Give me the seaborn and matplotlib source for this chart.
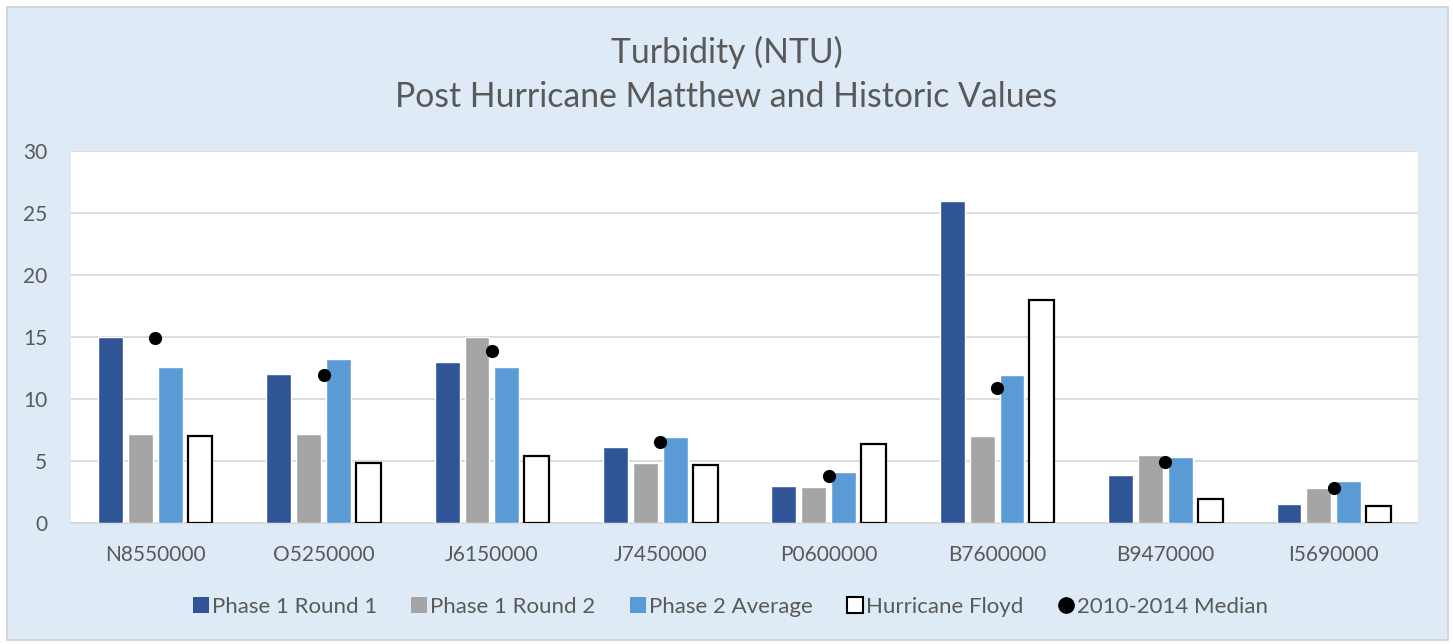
import pandas as pd  # data tables
import matplotlib.pyplot as plt  # plotting
from matplotlib.patches import Rectangle
from matplotlib.lines import Line2D
import seaborn as sns  # bar + strip plots

# ---- Data ---- #
stations = ['N8550000', 'O5250000', 'J6150000', 'J7450000',
            'P0600000', 'B7600000', 'B9470000', 'I5690000']
phase1_round1 = [15.0, 12.0, 13.0, 6.1, 3.0, 26.0, 3.9, 1.5]
phase1_round2 = [7.2, 7.2, 15.0, 4.8, 2.9, 7.0, 5.5, 2.8]
phase2_average = [12.6, 13.2, 12.6, 6.9, 4.1, 11.9, 5.3, 3.4]
hurricane_floyd = [7.0, 4.8, 5.4, 4.7, 6.4, 18.0, 1.9, 1.4]
median_2010_2014 = [14.9, 11.9, 13.9, 6.5, 3.8, 10.9, 4.9, 2.8]

series_names = ['Phase 1 Round 1', 'Phase 1 Round 2', 'Phase 2 Average', 'Hurricane Floyd']
series_colors = ['#2F5597', '#A5A5A5', '#5B9BD5', '#FFFFFF']
y_ticks = [0, 5, 10, 15, 20, 25, 30]

# Long-form table for seaborn
bars = pd.DataFrame({
    'station': stations * 4,
    'series': [s for s in series_names for _ in stations],
    'value': phase1_round1 + phase1_round2 + phase2_average + hurricane_floyd,
})
medians = pd.DataFrame({'station': stations, 'value': median_2010_2014})

sns.set_style('white')
plt.rcParams['font.family'] = ['Lato', 'DejaVu Sans']
text_color = '#595959'

fig = plt.figure(figsize=(14.53, 6.44), dpi=100, facecolor='white')
# chart area background with thin border (behind the axes)
fig.patches.append(Rectangle((7 / 1453, 1 - 640 / 644), 1441 / 1453, 633 / 644,
                             transform=fig.transFigure, facecolor='#DEEAF6',
                             edgecolor='#D0D0D0', linewidth=1.2, zorder=-1))

ax = fig.add_axes([71 / 1453, 1 - 523 / 644, 1347 / 1453, 372 / 644])
ax.set_zorder(1)
ax.set_facecolor('white')

sns.barplot(data=bars, x='station', y='value', hue='series', order=stations,
            hue_order=series_names, palette=series_colors, width=0.71, gap=0.17,
            saturation=1, errorbar=None, legend=False, ax=ax, zorder=3)
# Hurricane Floyd bars: white with black outline
for patch in ax.containers[3]:
    patch.set_edgecolor('black')
    patch.set_linewidth(1.6)

sns.stripplot(data=medians, x='station', y='value', order=stations, jitter=False,
              color='black', size=9.5, ax=ax, zorder=4)

ax.set_ylim(0, 30)
ax.set_yticks(y_ticks)
ax.set_xlim(-0.5, len(stations) - 0.5)
ax.grid(axis='y', color='#D9D9D9', linewidth=1.3, zorder=0)
ax.set_axisbelow(True)
for side in ['top', 'left']:
    ax.spines[side].set_visible(False)
ax.spines['right'].set_color('#E8E8E8')
ax.spines['bottom'].set_color('#D9D9D9')
ax.spines['bottom'].set_linewidth(1.5)
ax.tick_params(axis='both', length=0, labelsize=15, labelcolor=text_color)
ax.tick_params(axis='x', pad=16)
ax.tick_params(axis='y', pad=17)
ax.set_xlabel('')
ax.set_ylabel('')

fig.text(0.5, 1 - 52 / 644, 'Turbidity (NTU)', ha='center', va='center',
         fontsize=24.3, color=text_color)
fig.text(0.5, 1 - 97 / 644, 'Post Hurricane Matthew and Historic Values', ha='center',
         va='center', fontsize=24.3, color=text_color)

handles = [Line2D([], [], linestyle='none', marker='s', markersize=11,
                  markerfacecolor=c, markeredgecolor='black' if c == '#FFFFFF' else c,
                  markeredgewidth=1.5 if c == '#FFFFFF' else 0)
           for c in series_colors]
handles.append(Line2D([], [], linestyle='none', marker='o', markersize=11,
                      markerfacecolor='black', markeredgecolor='black'))
labels = series_names + ['2010-2014 Median']
fig.legend(handles, labels, loc='center', bbox_to_anchor=(731 / 1453, 1 - 607 / 644),
           ncol=5, frameon=False, fontsize=16, labelcolor=text_color,
           handlelength=0.6, handletextpad=0.2, columnspacing=1.6)

fig.savefig('out.png', dpi=100, facecolor='white')
